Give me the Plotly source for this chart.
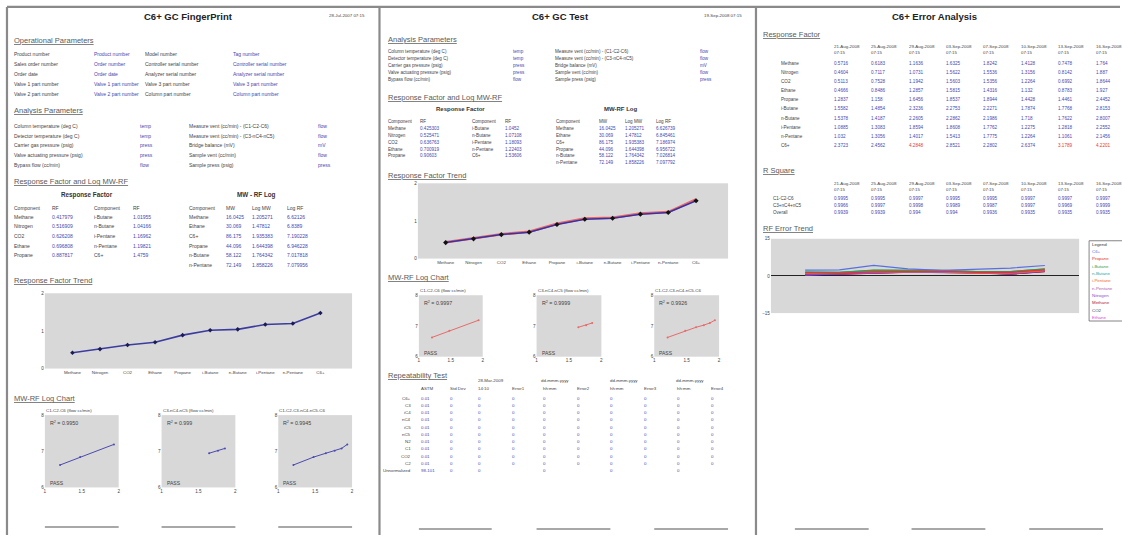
import plotly.graph_objects as go

W, H = 1122, 538
FONT = "Liberation Sans, Arial, sans-serif"
INK = "#3f3f3f"
HEAD = "#5a5a5a"
BLUE = "#4747b0"
RED = "#e53935"
PLOT_BG = "#d8d8d8"
FRAME = "#8a8a8a"

# ---------------- data ----------------
components = ["Methane", "Nitrogen", "CO2", "Ethane", "Propane",
              "i-Butane", "n-Butane", "i-Pentane", "n-Pentane", "C6+"]
fingerprint_rf = [0.417979, 0.516909, 0.626208, 0.696808, 0.887817,
                  1.01955, 1.04166, 1.16962, 1.19821, 1.4759]
test_rf = [0.425303, 0.525471, 0.636763, 0.700919, 0.90603,
           1.0452, 1.07108, 1.18093, 1.22403, 1.53606]
test_rf_prior = [0.432, 0.534, 0.646, 0.712, 0.926,
                 1.066, 1.086, 1.197, 1.236, 1.572]

log_components = ["Methane", "Ethane", "C6+", "Propane", "n-Butane", "n-Pentane"]
mol_weight = [16.0425, 30.069, 86.175, 44.096, 58.122, 72.149]
log_mw = [1.205271, 1.47812, 1.935383, 1.644398, 1.764342, 1.858226]
fingerprint_log_rf = [6.62126, 6.8389, 7.190228, 6.946228, 7.017818, 7.079956]
test_log_rf = [6.626739, 6.845461, 7.186974, 6.956722, 7.026814, 7.097792]

log_chart_titles = ["C1-C2-C6 (flow cc/min)", "C3-nC4-nC5 (flow cc/min)", "C1-C2-C3-nC4-nC5-C6"]
log_chart_members = [["Methane", "Ethane", "C6+"],
                     ["Propane", "n-Butane", "n-Pentane"],
                     ["Methane", "Ethane", "C6+", "Propane", "n-Butane", "n-Pentane"]]
fingerprint_r2 = ["0.9950", "0.999", "0.9945"]
test_r2 = ["0.9997", "0.9999", "0.9926"]

op_labels_a = ["Product number", "Sales order number", "Order date",
               "Valve 1 part number", "Valve 2 part number"]
op_values_a = ["Product number", "Order number", "Order date",
               "Valve 1 part number", "Valve 2 part number"]
op_labels_b = ["Model number", "Controller serial number", "Analyzer serial number",
               "Valve 3 part number", "Column part number"]
op_values_b = ["Tag number", "Controller serial number", "Analyzer serial number",
               "Valve 3 part number", "Column part number"]

an_labels_a = ["Column temperature (deg C)", "Detector temperature (deg C)",
               "Carrier gas pressure (psig)", "Valve actuating pressure (psig)",
               "Bypass flow (cc/min)"]
an_values_a = ["temp", "temp", "press", "press", "flow"]
an_labels_b = ["Measure vent (cc/min) - (C1-C2-C6)", "Measure vent (cc/min) - (C3-nC4-nC5)",
               "Bridge balance (mV)", "Sample vent (cc/min)", "Sample press (psig)"]
an_values_b = ["flow", "flow", "mV", "flow", "press"]

rep_components = ["C6+", "C3", "iC4", "nC4", "iC5", "nC5", "N2", "C1", "CO2", "C2", "Unnormalized"]
rep_astm = ["0.01", "0.01", "0.01", "0.01", "0.01", "0.01", "0.01", "0.01", "0.01", "0.01", "98-101"]
rep_std_dev = [0, 0, 0, 0, 0, 0, 0, 0, 0, 0, 0]
rep_run1 = [0, 0, 0, 0, 0, 0, 0, 0, 0, 0, 0]
rep_err1 = [0, 0, 0, 0, 0, 0, 0, 0, 0, 0, None]
rep_run2 = [0, 0, 0, 0, 0, 0, 0, 0, 0, 0, 0]
rep_err2 = [0, 0, 0, 0, 0, 0, 0, 0, 0, 0, None]
rep_run3 = [0, 0, 0, 0, 0, 0, 0, 0, 0, 0, 0]
rep_err3 = [0, 0, 0, 0, 0, 0, 0, 0, 0, 0, None]
rep_run4 = [0, 0, 0, 0, 0, 0, 0, 0, 0, 0, 0]
rep_err4 = [0, 0, 0, 0, 0, 0, 0, 0, 0, 0, None]

error_dates = ["21-Aug-2008", "25-Aug-2008", "29-Aug-2008", "03-Sep-2008",
               "07-Sep-2008", "10-Sep-2008", "13-Sep-2008", "16-Sep-2008"]
error_time = "07:15"
err_methane = [0.5716, 0.6183, 1.1636, 1.6325, 1.8242, 1.4128, 0.7478, 1.764]
err_nitrogen = [0.4604, 0.7117, 1.0731, 1.5622, 1.5536, 1.3156, 0.8142, 1.887]
err_co2 = [0.5113, 0.7528, 1.1942, 1.5603, 1.5356, 1.2264, 0.6992, 1.8644]
err_ethane = [0.4666, 0.8486, 1.2857, 1.5815, 1.4316, 1.132, 0.8783, 1.927]
err_propane = [1.2837, 1.158, 1.6456, 1.8537, 1.8944, 1.4428, 1.4461, 2.4452]
err_ibutane = [1.5582, 1.4854, 2.3236, 2.2753, 2.2271, 1.7874, 1.7768, 2.8153]
err_nbutane = [1.5378, 1.4187, 2.2605, 2.2862, 2.1986, 1.718, 1.7622, 2.8007]
err_ipentane = [1.0885, 1.3083, 1.8594, 1.8608, 1.7762, 1.2275, 1.2818, 2.2552]
err_npentane = [1.032, 1.3056, 1.4017, 1.5413, 1.7775, 1.2264, 1.1061, 2.1456]
err_c6plus = [2.3723, 2.4562, 4.2848, 2.8521, 2.2802, 2.6374, 3.1789, 4.2201]
error_limit = 3.0

r2_labels = ["C1-C2-C6", "C3+nC4+nC5", "Overall"]
r2_c1c2c6 = [0.9995, 0.9995, 0.9997, 0.9995, 0.9995, 0.9997, 0.9997, 0.9997]
r2_c3nc4nc5 = [0.9966, 0.9997, 0.9998, 0.9989, 0.9987, 0.9997, 0.9969, 0.9999]
r2_overall = [0.9939, 0.9939, 0.994, 0.994, 0.9936, 0.9935, 0.9935, 0.9935]

error_rows = [("Methane", err_methane), ("Nitrogen", err_nitrogen), ("CO2", err_co2),
              ("Ethane", err_ethane), ("Propane", err_propane), ("i-Butane", err_ibutane),
              ("n-Butane", err_nbutane), ("i-Pentane", err_ipentane),
              ("n-Pentane", err_npentane), ("C6+", err_c6plus)]
legend_order = ["C6+", "Propane", "i-Butane", "n-Butane", "i-Pentane",
                "n-Pentane", "Nitrogen", "Methane", "CO2", "Ethane"]
series_colors = {"C6+": "#5a6ee0", "Propane": "#e8302c", "i-Butane": "#3a9a4a",
                 "n-Butane": "#1fa7a7", "i-Pentane": "#f06a2a", "n-Pentane": "#b85aa8",
                 "Nitrogen": "#8a4ad0", "Methane": "#b0203a", "CO2": "#404040",
                 "Ethane": "#e048e0"}

# ---------------- helpers ----------------
annotations, shapes, traces = [], [], []
axes_layout = {}
_axis_count = [0]


def text(x, y, s, size=5.0, color=INK, anchor="left"):
    if s == "":
        return
    annotations.append(dict(
        x=x / W, y=1 - y / H, xref="paper", yref="paper", text=s,
        showarrow=False, xanchor=anchor, yanchor="middle", borderpad=0,
        font=dict(family=FONT, size=size, color=color)))


def heading(x, y, s, size=7.5):
    text(x, y, "<u>" + s + "</u>", size=size, color=HEAD)


def line(x0, y0, x1, y1, color, width):
    shapes.append(dict(type="line", xref="paper", yref="paper",
                       x0=x0 / W, x1=x1 / W, y0=1 - y0 / H, y1=1 - y1 / H,
                       line=dict(color=color, width=width)))


def fmt(v):
    return "" if v is None else str(v)


def new_axes(x0, x1, y0, y1, xopts, yopts):
    _axis_count[0] += 1
    n = _axis_count[0]
    s = "" if n == 1 else str(n)
    base = dict(showgrid=False, zeroline=False, showline=False, ticks="",
                fixedrange=True, tickfont=dict(family=FONT, size=4.6, color=INK))
    axes_layout["xaxis" + s] = dict(base, domain=[x0 / W, x1 / W], anchor="y" + s, **xopts)
    axes_layout["yaxis" + s] = dict(base, domain=[1 - y1 / H, 1 - y0 / H], anchor="x" + s, **yopts)
    return "x" + s, "y" + s


def trend_chart(x0, x1, y0, y1, series):
    xa, ya = new_axes(x0, x1, y0, y1,
                      dict(type="category", range=[-1, 10.15],
                           tickfont=dict(family=FONT, size=4.4, color=INK)),
                      dict(range=[0, 2], tickvals=[0, 1, 2]))
    for values, lcolor, lwidth, mcolor, msize in series:
        traces.append(go.Scatter(
            x=components, y=values, xaxis=xa, yaxis=ya, showlegend=False,
            mode="lines+markers" if msize else "lines",
            line=dict(color=lcolor, width=lwidth),
            marker=dict(size=msize, color=mcolor, symbol="diamond")))


def log_chart(x0, x1, y0, y1, idx, log_rf, r2, lcolor):
    xa, ya = new_axes(x0, x1, y0, y1,
                      dict(range=[1, 2], tickvals=[1, 1.5, 2], ticktext=["1", "1.5", "2"]),
                      dict(range=[6, 8], tickvals=[6, 7, 8]))
    members = log_chart_members[idx]
    pts = sorted((log_mw[log_components.index(m)], log_rf[log_components.index(m)])
                 for m in members)
    traces.append(go.Scatter(
        x=[p[0] for p in pts], y=[p[1] for p in pts], xaxis=xa, yaxis=ya,
        mode="lines+markers", showlegend=False,
        line=dict(color=lcolor, width=1), marker=dict(size=2, color=lcolor)))
    text(x0, y0 - 5, log_chart_titles[idx], size=4.4)
    text(x0 + 4, y0 + 8, "R<sup>2</sup> = " + r2, size=5.3)
    text(x0 + 4, y1 - 4, "PASS", size=5)


# ---------------- page frames ----------------
for fx in (6, 379.5, 757):
    line(fx, 5, fx, H, FRAME, 2.2)
line(6, 5, W, 5, FRAME, 2.2)

# ================= page 1 : fingerprint =================
text(188, 15, "<b>C6+ GC FingerPrint</b>", size=9.5, color="#222222", anchor="center")
text(328, 14, "28-Jul-2007 07:15", size=4.4, color=INK)

heading(12, 39, "Operational Parameters")
for i in range(5):
    y = 52 + 10.3 * i
    text(12, y, op_labels_a[i])
    text(92, y, op_values_a[i], color=BLUE)
    text(143, y, op_labels_b[i])
    text(232, y, op_values_b[i], color=BLUE)

heading(12, 110, "Analysis Parameters")
for i in range(5):
    y = 125 + 9.9 * i
    text(12, y, an_labels_a[i])
    text(138, y, an_values_a[i], color=BLUE)
    text(188, y, an_labels_b[i])
    text(317, y, an_values_b[i], color=BLUE)

heading(12, 181.5, "Response Factor and Log MW-RF")
text(86, 194.5, "<b>Response Factor</b>", size=6.3, color="#333333", anchor="center")
text(256, 194.5, "<b>MW - RF Log</b>", size=6.3, color="#333333", anchor="center")
for x, s in ((12, "Component"), (50, "RF"), (92, "Component"), (131, "RF"),
             (187, "Component"), (225, "MW"), (251, "Log MW"), (286, "Log RF")):
    text(x, 207.5, s)
for i in range(5):
    y = 217 + 9.6 * i
    text(12, y, components[i])
    text(50, y, fmt(fingerprint_rf[i]), color=BLUE)
    text(92, y, components[i + 5])
    text(131, y, fmt(fingerprint_rf[i + 5]), color=BLUE)
for i in range(6):
    y = 217 + 9.6 * i
    text(187, y, log_components[i])
    text(225, y, fmt(mol_weight[i]), color=BLUE)
    text(251, y, fmt(log_mw[i]), color=BLUE)
    text(286, y, fmt(fingerprint_log_rf[i]), color=BLUE)

heading(12, 281, "Response Factor Trend")
trend_chart(44, 352, 294, 370, [(fingerprint_rf, "#3c3ca0", 1.6, "#1c1c55", 3.5)])

heading(12, 400, "MW-RF Log Chart")
for k, (x0, x1) in enumerate(((44, 118), (161, 235), (278, 352))):
    log_chart(x0, x1, 417, 490, k, fingerprint_log_rf, fingerprint_r2[k], "#4a4ab0")
    line(x0, 530, x1, 530, "#a8a8a8", 2)

# ================= page 2 : test =================
text(561, 15, "<b>C6+ GC Test</b>", size=9.5, color="#222222", anchor="center")
text(704, 14, "19-Sep-2008 07:15", size=4.4, color=INK)

heading(387, 38, "Analysis Parameters")
for i in range(5):
    y = 50 + 7 * i
    text(387, y, an_labels_a[i], size=4.6)
    text(512, y, an_values_a[i], size=4.6, color=BLUE)
    text(554, y, an_labels_b[i], size=4.6)
    text(700, y, an_values_b[i], size=4.6, color=BLUE)

heading(387, 96, "Response Factor and Log MW-RF")
text(461, 108.5, "<b>Response Factor</b>", size=6, color="#333333", anchor="center")
text(622, 108.5, "<b>MW-RF Log</b>", size=6, color="#333333", anchor="center")
for x, s in ((387, "Component"), (419, "RF"), (471, "Component"), (504, "RF"),
             (555, "Component"), (599, "MW"), (625, "Log MW"), (656, "Log RF")):
    text(x, 121, s, size=4.6)
for i in range(5):
    y = 128 + 6.8 * i
    text(387, y, components[i], size=4.6)
    text(419, y, fmt(test_rf[i]), size=4.6, color=BLUE)
    text(471, y, components[i + 5], size=4.6)
    text(504, y, fmt(test_rf[i + 5]), size=4.6, color=BLUE)
for i in range(6):
    y = 128 + 6.8 * i
    text(555, y, log_components[i], size=4.6)
    text(599, y, fmt(mol_weight[i]), size=4.6, color=BLUE)
    text(625, y, fmt(log_mw[i]), size=4.6, color=BLUE)
    text(656, y, fmt(test_log_rf[i]), size=4.6, color=BLUE)

heading(387, 175, "Response Factor Trend")
trend_chart(418, 729, 183, 259, [(test_rf_prior, "#ec6464", 2.6, "#ec6464", 0),
                                 (test_rf, "#3434a8", 1.5, "#111111", 4)])

heading(387, 278, "MW-RF Log Chart")
for k, (x0, x1) in enumerate(((419, 483), (537, 602), (655, 720))):
    log_chart(x0, x1, 296, 358, k, test_log_rf, test_r2[k], "#e86a6a")
for x0, x1 in ((419, 492), (537, 611), (655, 729)):
    line(x0, 532, x1, 532, "#a8a8a8", 2)

heading(387, 377, "Repeatability Test")
text(477, 382.5, "28-Mar-2009", size=4.4)
for x in (540, 610, 676):
    text(x, 382.5, "dd-mmm-yyyy", size=4.4)
for x, s in ((420, "ASTM"), (449, "Std Dev"), (477, "14:10"), (511, "Error1"),
             (542, "hh:mm"), (577, "Error2"), (610, "hh:mm"), (644, "Error3"),
             (677, "hh:mm"), (711, "Error4")):
    text(x, 390, s, size=4.4)
rep_cols = [(449, rep_std_dev), (477, rep_run1), (511, rep_err1), (542, rep_run2),
            (577, rep_err2), (610, rep_run3), (644, rep_err3), (677, rep_run4), (711, rep_err4)]
for i, comp in enumerate(rep_components):
    y = 400 + 7.3 * i
    text(412, y, comp, size=4.4, anchor="right")
    text(420, y, rep_astm[i], size=4.4, color=BLUE)
    for x, col in rep_cols:
        text(x, y, fmt(col[i]), size=4.4, color=BLUE)

# ================= page 3 : error analysis =================
text(936, 15, "<b>C6+ Error Analysis</b>", size=9.5, color="#222222", anchor="center")
date_cols = [834, 871.5, 909, 946.5, 984, 1021.5, 1059, 1096.5]

heading(763, 33, "Response Factor")
for x, d in zip(date_cols, error_dates):
    text(x, 44.5, d, size=4.4)
    text(x, 51, error_time, size=4.4)
for i, (name, vals) in enumerate(error_rows):
    y = 62 + 9.2 * i
    text(781, y, name, size=4.6)
    for x, v in zip(date_cols, vals):
        text(x, y, fmt(v), size=4.6, color=RED if v > error_limit else BLUE)

heading(763, 170, "R Square")
for x, d in zip(date_cols, error_dates):
    text(x, 183, d, size=4.4)
    text(x, 189.5, error_time, size=4.4)
for i, vals in enumerate((r2_c1c2c6, r2_c3nc4nc5, r2_overall)):
    y = 198 + 7.2 * i
    text(773, y, r2_labels[i], size=4.6)
    for x, v in zip(date_cols, vals):
        text(x, y, fmt(v), size=4.6, color=BLUE)

heading(763, 229, "RF Error Trend")
xa, ya = new_axes(772, 1081, 239, 314,
                  dict(type="category", range=[-1, 8], showticklabels=False),
                  dict(range=[-15, 15], tickvals=[-15, 0, 15], zeroline=True,
                       zerolinecolor="#222222", zerolinewidth=1))
row_lookup = dict(error_rows)
for name in reversed(legend_order):
    traces.append(go.Scatter(x=error_dates, y=row_lookup[name], xaxis=xa, yaxis=ya,
                             mode="lines", showlegend=False,
                             line=dict(color=series_colors[name], width=1.2)))

# legend box beside the error trend
shapes.append(dict(type="rect", xref="paper", yref="paper",
                   x0=1091 / W, x1=1130 / W, y0=1 - 322 / H, y1=1 - 241 / H,
                   fillcolor="white", line=dict(color="#666666", width=0.8)))
text(1093, 245, "Legend", size=4.4, color="#333333")
for i, name in enumerate(legend_order):
    text(1093, 252 + 7.4 * i, name, size=4.4, color=series_colors[name])

# signature lines on page 3
for x0, x1 in ((796, 870), (913, 987), (1031, 1105)):
    line(x0, 532, x1, 532, "#a8a8a8", 2)

fig = go.Figure(data=traces)
fig.update_layout(
    width=W, height=H, margin=dict(l=0, r=0, t=0, b=0),
    paper_bgcolor="white", plot_bgcolor=PLOT_BG,
    font=dict(family=FONT, size=5, color=INK),
    annotations=annotations, shapes=shapes, showlegend=False,
    **axes_layout)
fig.write_html("out.html", config={"displayModeBar": False})
